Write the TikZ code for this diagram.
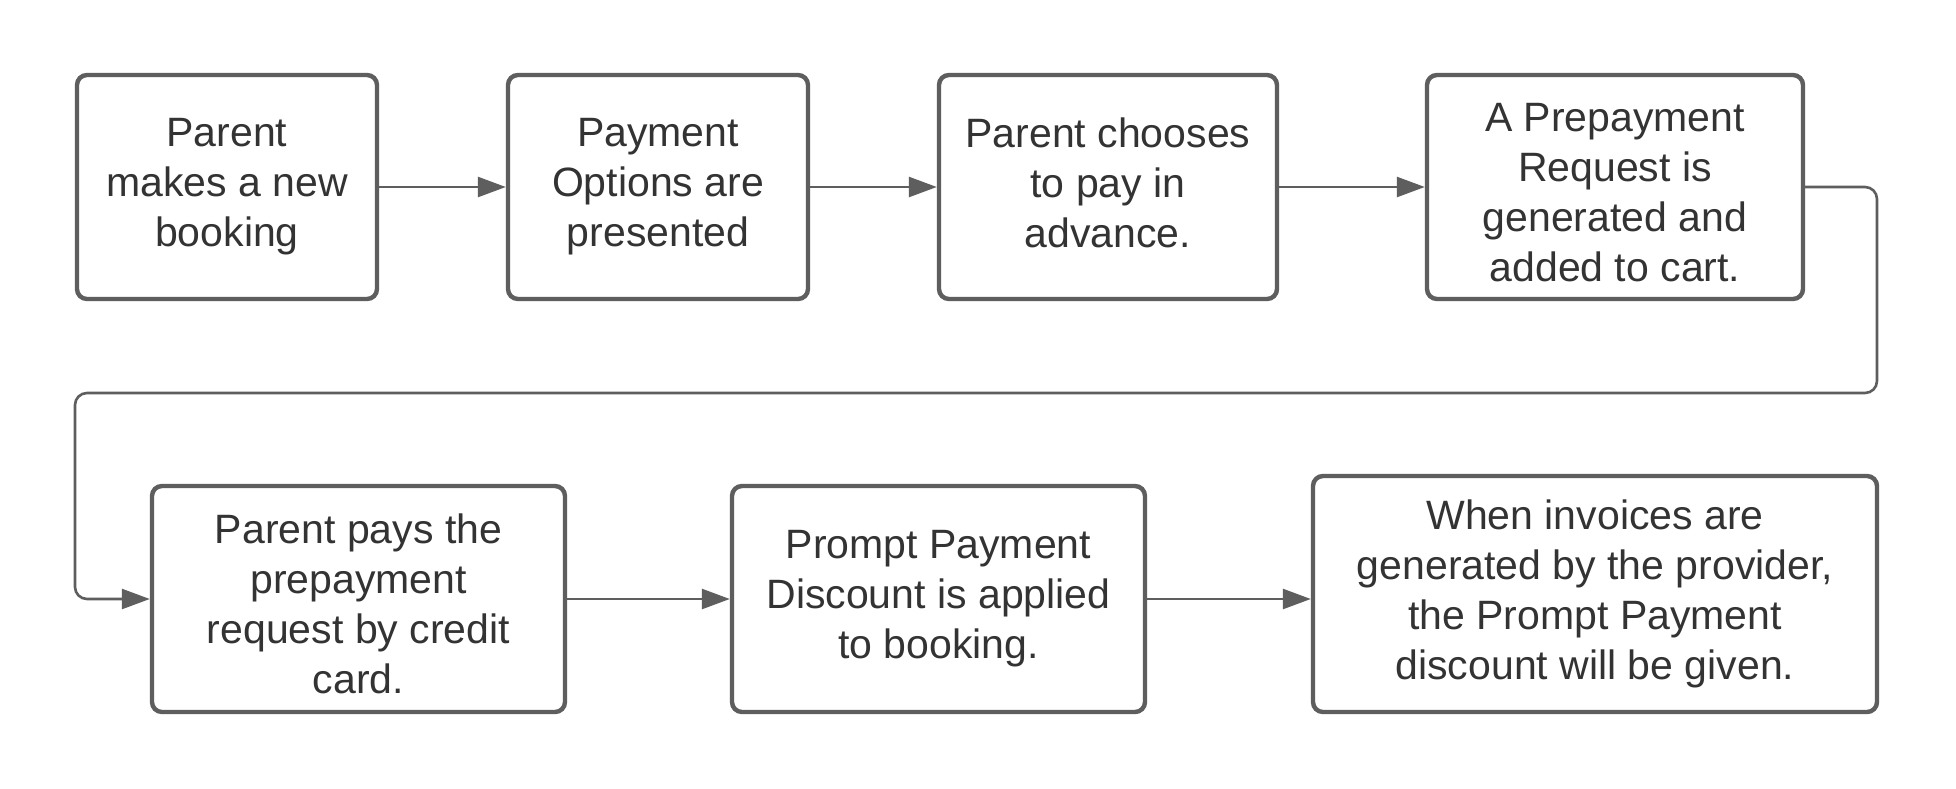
\documentclass[tikz,border=0pt]{standalone}
\usepackage{fontspec}
\setmainfont{Liberation Sans}
\usetikzlibrary{arrows.meta}
\definecolor{lc}{HTML}{5E5E5E}
\definecolor{tc}{HTML}{333333}
\begin{document}
\begin{tikzpicture}[x=0.5pt,y=-0.5pt,
 box/.style={draw=lc, line width=2.2pt, rounded corners=5pt, fill=white, align=center, text=tc,
   font=\fontsize{20.5pt}{25pt}\selectfont, inner sep=0pt, minimum height=112pt},
 conn/.style={draw=lc, line width=1.3pt, -{Triangle[length=14pt,width=10pt]}}]
\useasboundingbox (0,0) rectangle (1956,788);
\fill[white] (0,0) rectangle (1956,788);
\node[box, minimum width=150pt] (b1) at (227,187) {Parent\\makes a new\\booking};
\node[box, minimum width=150pt] (b2) at (658,187) {Payment\\Options are\\presented};
\node[box, minimum width=169pt] (b3) at (1108,187) {Parent chooses\\to pay in\\advance.\vphantom{g}};
\node[box, minimum width=188pt] (b4) at (1615,187) {\rule{0pt}{20pt}A Prepayment\\Request is\\generated and\\added to cart.};
\node[box, minimum width=206.5pt, minimum height=113pt] (b5) at (358.5,599) {\rule{0pt}{20pt}Parent pays the\\prepayment\\request by credit\\card.};
\node[box, minimum width=206.5pt, minimum height=113pt] (b6) at (938.5,599) {Prompt Payment\\Discount is applied\\to booking.};
\node[box, minimum width=282pt, minimum height=118pt] (b7) at (1595,594) {When invoices are\\generated by the provider,\\the Prompt Payment\\discount will be given.};
\coordinate (r1) at (1877,187);
\coordinate (r2) at (1877,393);
\coordinate (l1) at (75,393);
\coordinate (l2) at (75,599);
\draw[conn] (b1) -- (b2);
\draw[conn] (b2) -- (b3);
\draw[conn] (b3) -- (b4);
\draw[conn, rounded corners=6pt] (b4.east) -- (r1) -- (r2) -- (l1) -- (l2) -- (b5.west);
\draw[conn] (b5) -- (b6);
\draw[conn] (b6.east) -- (b7.west |- b6.east);
\end{tikzpicture}
\end{document}
